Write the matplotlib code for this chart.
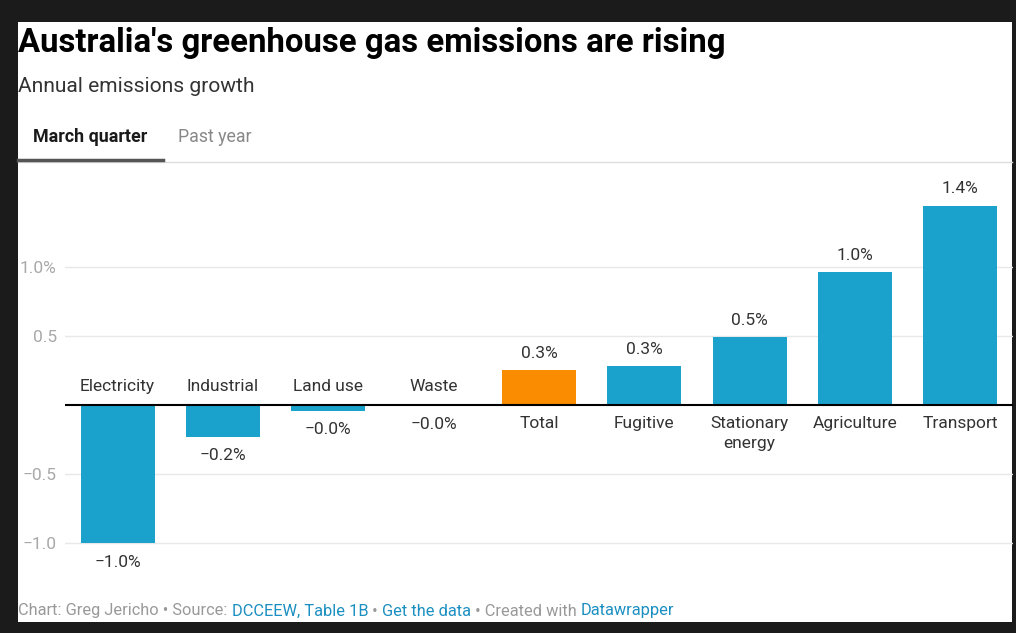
import numpy as np
import matplotlib.pyplot as plt

categories = ["Electricity", "Industrial", "Land use", "Waste", "Total",
              "Fugitive", "Stationary\nenergy", "Agriculture", "Transport"]
values = [-1.0, -0.23, -0.04, -0.003, 0.25, 0.28, 0.49, 0.96, 1.44]
value_labels = ["−1.0%", "−0.2%", "−0.0%", "−0.0%", "0.3%", "0.3%", "0.5%", "1.0%", "1.4%"]
highlight = "Total"
yticks = [-1.0, -0.5, 0.5, 1.0]
ytick_labels = ["−1.0", "−0.5", "0.5", "1.0%"]

W, H = 1016, 633
BLUE = "#1aa1cc"
ORANGE = "#f98c00"
LBL = 12.5

plt.rcParams['font.family'] = ['Roboto', 'DejaVu Sans']

fig = plt.figure(figsize=(W / 100, H / 100), dpi=100)
fig.patch.set_facecolor("#1b1b1b")


def fx(x):
    return x / W


def fy(y):
    return 1 - y / H


# white card
card = plt.Rectangle((fx(18), fy(622)), fx(1012) - fx(18), fy(22) - fy(622),
                     transform=fig.transFigure, facecolor="white", edgecolor="none", zorder=-5)
fig.add_artist(card)

# header
fig.text(fx(18), fy(43), "Australia's greenhouse gas emissions are rising",
         fontsize=23.7, fontweight="bold", color="black", va="center", ha="left")
fig.text(fx(18), fy(87), "Annual emissions growth", fontsize=15.1, color="#333333",
         va="center", ha="left")
fig.text(fx(33), fy(137), "March quarter", fontsize=12.9, fontweight="bold",
         color="#1a1a1a", va="center", ha="left")
fig.text(fx(178), fy(137), "Past year", fontsize=12.8, color="#888888",
         va="center", ha="left")
fig.add_artist(plt.Line2D([fx(18), fx(1012)], [fy(162), fy(162)], color="#dddddd", lw=1))
fig.add_artist(plt.Line2D([fx(18), fx(163)], [fy(160), fy(160)], color="#555555", lw=2.5))

# chart
ax = fig.add_axes([fx(65), fy(580), fx(1013) - fx(65), fy(170) - fy(580)])
ax.set_facecolor("none")
x = np.arange(len(categories))
colors = [ORANGE if c == highlight else BLUE for c in categories]
ax.bar(x, values, width=0.7, color=colors, zorder=2)
ax.set_xlim(-0.5, len(categories) - 0.5)
ax.set_ylim(-1.264, 1.697)

for t in yticks:
    ax.axhline(t, color="#e8e8e8", lw=1, zorder=1)
ax.axhline(0, color="black", lw=1.5, zorder=3)
ax.set_yticks(yticks)
ax.set_yticklabels(ytick_labels)
ax.tick_params(axis="y", length=0, pad=6, labelsize=LBL, labelcolor="#a8a8a8")
ax.set_xticks([])
for s in ax.spines.values():
    s.set_visible(False)

for xi, v, lab, cat in zip(x, values, value_labels, categories):
    if v < 0:
        ax.annotate(lab, (xi, v), xytext=(0, -19), textcoords="offset pixels",
                    ha="center", va="center", fontsize=LBL, color="#333333")
        ax.annotate(cat, (xi, 0), xytext=(0, 18), textcoords="offset pixels",
                    ha="center", va="center", fontsize=LBL, color="#333333")
    else:
        ax.annotate(lab, (xi, v), xytext=(0, 17), textcoords="offset pixels",
                    ha="center", va="center", fontsize=LBL, color="#333333")
        ax.annotate(cat, (xi, 0), xytext=(0, -11), textcoords="offset pixels",
                    ha="center", va="top", fontsize=LBL, color="#333333",
                    linespacing=1.4)

# footer, pieces chained one after another
parts = [("Chart: Greg Jericho • Source: ", "#999999"), ("DCCEEW, Table 1B", "#1b8fc1"),
         (" • ", "#999999"), ("Get the data", "#1b8fc1"),
         (" • Created with ", "#999999"), ("Datawrapper", "#1b8fc1")]
anchor = fig.text(fx(18), fy(611), parts[0][0], fontsize=11.8, color=parts[0][1],
                  va="center", ha="left")
for txt, col in parts[1:]:
    anchor = ax.annotate(txt, xy=(1, 0), xycoords=anchor, va="bottom", ha="left",
                         fontsize=11.8, color=col, annotation_clip=False)

fig.savefig("out.png", dpi=100, facecolor=fig.get_facecolor())
